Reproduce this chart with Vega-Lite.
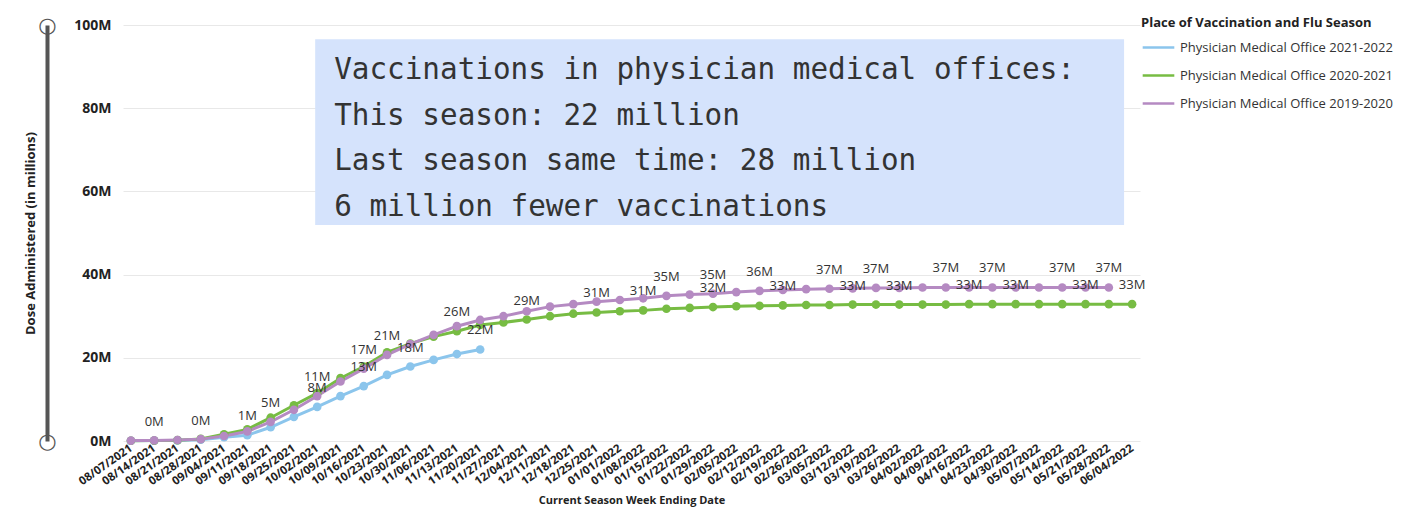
{
  "$schema": "https://vega.github.io/schema/vega-lite/v6.json",
  "width": 1017,
  "height": 416,
  "autosize": {"type": "none"},
  "padding": {"left": 123, "top": 25, "right": 286, "bottom": 68},
  "background": "white",
  "config": {
    "font": "Open Sans",
    "view": {"stroke": null},
    "axisX": {"grid": false, "ticks": false, "domain": false, "labelAngle": -35, "labelAlign": "right", "labelBaseline": "middle", "labelFont": "Open Sans", "labelFontWeight": "bold", "labelFontSize": 11.5, "labelColor": "#222", "labelPadding": 6, "titleFont": "Open Sans", "titleFontWeight": "bold", "titleFontSize": 11, "titleColor": "#222", "titlePadding": 7}
  },
  "datasets": {
    "main": [
      {"d": "08/07/2021", "s": "Physician Medical Office 2021-2022", "v": 0.05},
      {"d": "08/14/2021", "s": "Physician Medical Office 2021-2022", "v": 0.1, "l": "0M"},
      {"d": "08/21/2021", "s": "Physician Medical Office 2021-2022", "v": 0.15},
      {"d": "08/28/2021", "s": "Physician Medical Office 2021-2022", "v": 0.3, "l": "0M"},
      {"d": "09/04/2021", "s": "Physician Medical Office 2021-2022", "v": 0.9},
      {"d": "09/11/2021", "s": "Physician Medical Office 2021-2022", "v": 1.4, "l": "1M"},
      {"d": "09/18/2021", "s": "Physician Medical Office 2021-2022", "v": 3.3},
      {"d": "09/25/2021", "s": "Physician Medical Office 2021-2022", "v": 5.8},
      {"d": "10/02/2021", "s": "Physician Medical Office 2021-2022", "v": 8.2, "l": "8M"},
      {"d": "10/09/2021", "s": "Physician Medical Office 2021-2022", "v": 10.8},
      {"d": "10/16/2021", "s": "Physician Medical Office 2021-2022", "v": 13.2, "l": "13M"},
      {"d": "10/23/2021", "s": "Physician Medical Office 2021-2022", "v": 15.9},
      {"d": "10/30/2021", "s": "Physician Medical Office 2021-2022", "v": 17.9, "l": "18M"},
      {"d": "11/06/2021", "s": "Physician Medical Office 2021-2022", "v": 19.5},
      {"d": "11/13/2021", "s": "Physician Medical Office 2021-2022", "v": 20.9},
      {"d": "11/20/2021", "s": "Physician Medical Office 2021-2022", "v": 22.0, "l": "22M"},

      {"d": "08/07/2021", "s": "Physician Medical Office 2020-2021", "v": 0.05},
      {"d": "08/14/2021", "s": "Physician Medical Office 2020-2021", "v": 0.1},
      {"d": "08/21/2021", "s": "Physician Medical Office 2020-2021", "v": 0.2},
      {"d": "08/28/2021", "s": "Physician Medical Office 2020-2021", "v": 0.5},
      {"d": "09/04/2021", "s": "Physician Medical Office 2020-2021", "v": 1.6},
      {"d": "09/11/2021", "s": "Physician Medical Office 2020-2021", "v": 2.8},
      {"d": "09/18/2021", "s": "Physician Medical Office 2020-2021", "v": 5.6},
      {"d": "09/25/2021", "s": "Physician Medical Office 2020-2021", "v": 8.6},
      {"d": "10/02/2021", "s": "Physician Medical Office 2020-2021", "v": 11.5},
      {"d": "10/09/2021", "s": "Physician Medical Office 2020-2021", "v": 15.1},
      {"d": "10/16/2021", "s": "Physician Medical Office 2020-2021", "v": 17.9},
      {"d": "10/23/2021", "s": "Physician Medical Office 2020-2021", "v": 21.3},
      {"d": "10/30/2021", "s": "Physician Medical Office 2020-2021", "v": 23.4},
      {"d": "11/06/2021", "s": "Physician Medical Office 2020-2021", "v": 25.1},
      {"d": "11/13/2021", "s": "Physician Medical Office 2020-2021", "v": 26.4, "l": "26M"},
      {"d": "11/20/2021", "s": "Physician Medical Office 2020-2021", "v": 27.9},
      {"d": "11/27/2021", "s": "Physician Medical Office 2020-2021", "v": 28.5},
      {"d": "12/04/2021", "s": "Physician Medical Office 2020-2021", "v": 29.2, "l": "29M"},
      {"d": "12/11/2021", "s": "Physician Medical Office 2020-2021", "v": 30.0},
      {"d": "12/18/2021", "s": "Physician Medical Office 2020-2021", "v": 30.6},
      {"d": "12/25/2021", "s": "Physician Medical Office 2020-2021", "v": 30.9, "l": "31M"},
      {"d": "01/01/2022", "s": "Physician Medical Office 2020-2021", "v": 31.2},
      {"d": "01/08/2022", "s": "Physician Medical Office 2020-2021", "v": 31.4, "l": "31M"},
      {"d": "01/15/2022", "s": "Physician Medical Office 2020-2021", "v": 31.8},
      {"d": "01/22/2022", "s": "Physician Medical Office 2020-2021", "v": 32.0},
      {"d": "01/29/2022", "s": "Physician Medical Office 2020-2021", "v": 32.2, "l": "32M"},
      {"d": "02/05/2022", "s": "Physician Medical Office 2020-2021", "v": 32.4},
      {"d": "02/12/2022", "s": "Physician Medical Office 2020-2021", "v": 32.5},
      {"d": "02/19/2022", "s": "Physician Medical Office 2020-2021", "v": 32.6, "l": "33M"},
      {"d": "02/26/2022", "s": "Physician Medical Office 2020-2021", "v": 32.7},
      {"d": "03/05/2022", "s": "Physician Medical Office 2020-2021", "v": 32.7},
      {"d": "03/12/2022", "s": "Physician Medical Office 2020-2021", "v": 32.8, "l": "33M"},
      {"d": "03/19/2022", "s": "Physician Medical Office 2020-2021", "v": 32.8},
      {"d": "03/26/2022", "s": "Physician Medical Office 2020-2021", "v": 32.8, "l": "33M"},
      {"d": "04/02/2022", "s": "Physician Medical Office 2020-2021", "v": 32.8},
      {"d": "04/09/2022", "s": "Physician Medical Office 2020-2021", "v": 32.8},
      {"d": "04/16/2022", "s": "Physician Medical Office 2020-2021", "v": 32.9, "l": "33M"},
      {"d": "04/23/2022", "s": "Physician Medical Office 2020-2021", "v": 32.9},
      {"d": "04/30/2022", "s": "Physician Medical Office 2020-2021", "v": 32.9, "l": "33M"},
      {"d": "05/07/2022", "s": "Physician Medical Office 2020-2021", "v": 32.9},
      {"d": "05/14/2022", "s": "Physician Medical Office 2020-2021", "v": 32.9},
      {"d": "05/21/2022", "s": "Physician Medical Office 2020-2021", "v": 32.9, "l": "33M"},
      {"d": "05/28/2022", "s": "Physician Medical Office 2020-2021", "v": 32.9},
      {"d": "06/04/2022", "s": "Physician Medical Office 2020-2021", "v": 32.9, "l": "33M"},

      {"d": "08/07/2021", "s": "Physician Medical Office 2019-2020", "v": 0.1},
      {"d": "08/14/2021", "s": "Physician Medical Office 2019-2020", "v": 0.15},
      {"d": "08/21/2021", "s": "Physician Medical Office 2019-2020", "v": 0.25},
      {"d": "08/28/2021", "s": "Physician Medical Office 2019-2020", "v": 0.45},
      {"d": "09/04/2021", "s": "Physician Medical Office 2019-2020", "v": 1.2},
      {"d": "09/11/2021", "s": "Physician Medical Office 2019-2020", "v": 2.3},
      {"d": "09/18/2021", "s": "Physician Medical Office 2019-2020", "v": 4.6, "l": "5M"},
      {"d": "09/25/2021", "s": "Physician Medical Office 2019-2020", "v": 7.5},
      {"d": "10/02/2021", "s": "Physician Medical Office 2019-2020", "v": 10.8, "l": "11M"},
      {"d": "10/09/2021", "s": "Physician Medical Office 2019-2020", "v": 14.3},
      {"d": "10/16/2021", "s": "Physician Medical Office 2019-2020", "v": 17.4, "l": "17M"},
      {"d": "10/23/2021", "s": "Physician Medical Office 2019-2020", "v": 20.7, "l": "21M"},
      {"d": "10/30/2021", "s": "Physician Medical Office 2019-2020", "v": 23.3},
      {"d": "11/06/2021", "s": "Physician Medical Office 2019-2020", "v": 25.5},
      {"d": "11/13/2021", "s": "Physician Medical Office 2019-2020", "v": 27.6},
      {"d": "11/20/2021", "s": "Physician Medical Office 2019-2020", "v": 29.1},
      {"d": "11/27/2021", "s": "Physician Medical Office 2019-2020", "v": 30.0},
      {"d": "12/04/2021", "s": "Physician Medical Office 2019-2020", "v": 31.2},
      {"d": "12/11/2021", "s": "Physician Medical Office 2019-2020", "v": 32.3},
      {"d": "12/18/2021", "s": "Physician Medical Office 2019-2020", "v": 32.9},
      {"d": "12/25/2021", "s": "Physician Medical Office 2019-2020", "v": 33.5},
      {"d": "01/01/2022", "s": "Physician Medical Office 2019-2020", "v": 33.9},
      {"d": "01/08/2022", "s": "Physician Medical Office 2019-2020", "v": 34.3},
      {"d": "01/15/2022", "s": "Physician Medical Office 2019-2020", "v": 34.9, "l": "35M"},
      {"d": "01/22/2022", "s": "Physician Medical Office 2019-2020", "v": 35.2},
      {"d": "01/29/2022", "s": "Physician Medical Office 2019-2020", "v": 35.4, "l": "35M"},
      {"d": "02/05/2022", "s": "Physician Medical Office 2019-2020", "v": 35.8},
      {"d": "02/12/2022", "s": "Physician Medical Office 2019-2020", "v": 36.1, "l": "36M"},
      {"d": "02/19/2022", "s": "Physician Medical Office 2019-2020", "v": 36.3},
      {"d": "02/26/2022", "s": "Physician Medical Office 2019-2020", "v": 36.5},
      {"d": "03/05/2022", "s": "Physician Medical Office 2019-2020", "v": 36.6, "l": "37M"},
      {"d": "03/12/2022", "s": "Physician Medical Office 2019-2020", "v": 36.7},
      {"d": "03/19/2022", "s": "Physician Medical Office 2019-2020", "v": 36.8, "l": "37M"},
      {"d": "03/26/2022", "s": "Physician Medical Office 2019-2020", "v": 36.8},
      {"d": "04/02/2022", "s": "Physician Medical Office 2019-2020", "v": 36.9},
      {"d": "04/09/2022", "s": "Physician Medical Office 2019-2020", "v": 36.9, "l": "37M"},
      {"d": "04/16/2022", "s": "Physician Medical Office 2019-2020", "v": 36.9},
      {"d": "04/23/2022", "s": "Physician Medical Office 2019-2020", "v": 36.9, "l": "37M"},
      {"d": "04/30/2022", "s": "Physician Medical Office 2019-2020", "v": 36.9},
      {"d": "05/07/2022", "s": "Physician Medical Office 2019-2020", "v": 36.9},
      {"d": "05/14/2022", "s": "Physician Medical Office 2019-2020", "v": 36.9, "l": "37M"},
      {"d": "05/21/2022", "s": "Physician Medical Office 2019-2020", "v": 36.9},
      {"d": "05/28/2022", "s": "Physician Medical Office 2019-2020", "v": 36.9, "l": "37M"}
    ]
  },
  "layer": [
    {
      "data": {"name": "main"},
      "mark": {"type": "line", "strokeWidth": 3},
      "encoding": {
        "x": {"field": "d", "type": "ordinal", "sort": null,
              "scale": {"type": "point", "padding": 0.34, "domain": ["08/07/2021","08/14/2021","08/21/2021","08/28/2021","09/04/2021","09/11/2021","09/18/2021","09/25/2021","10/02/2021","10/09/2021","10/16/2021","10/23/2021","10/30/2021","11/06/2021","11/13/2021","11/20/2021","11/27/2021","12/04/2021","12/11/2021","12/18/2021","12/25/2021","01/01/2022","01/08/2022","01/15/2022","01/22/2022","01/29/2022","02/05/2022","02/12/2022","02/19/2022","02/26/2022","03/05/2022","03/12/2022","03/19/2022","03/26/2022","04/02/2022","04/09/2022","04/16/2022","04/23/2022","04/30/2022","05/07/2022","05/14/2022","05/21/2022","05/28/2022","06/04/2022"]},
              "axis": {"title": "Current Season Week Ending Date"}},
        "y": {"field": "v", "type": "quantitative", "scale": {"domain": [0, 100], "nice": false},
              "axis": {"orient": "left", "values": [0, 20, 40, 60, 80, 100], "labelExpr": "datum.value + 'M'", "title": null, "grid": true, "gridColor": "#E8E8E8", "gridWidth": 1, "ticks": false, "domain": false, "labelPadding": 12, "labelFont": "Open Sans", "labelFontWeight": "bold", "labelFontSize": 14, "labelColor": "#222"}},
        "color": {"field": "s", "type": "nominal", "sort": null,
                  "scale": {"domain": ["Physician Medical Office 2021-2022", "Physician Medical Office 2020-2021", "Physician Medical Office 2019-2020"], "range": ["#8BC5EC", "#77BC43", "#B58AC2"]},
                  "legend": {"title": "Place of Vaccination and Flu Season", "orient": "none", "legendX": 1018, "legendY": -8, "symbolType": "stroke", "symbolSize": 1000, "symbolStrokeWidth": 2.5, "titleFont": "Open Sans", "titleFontWeight": "bold", "titleFontSize": 13, "titleColor": "#222", "titlePadding": 0, "labelFont": "Open Sans", "labelFontSize": 13, "labelColor": "#333", "rowPadding": 3, "labelLimit": 300, "titleLimit": 300}}
      }
    },
    {
      "data": {"name": "main"},
      "mark": {"type": "point", "filled": true, "opacity": 1, "size": 75},
      "encoding": {
        "x": {"field": "d", "type": "ordinal", "sort": null, "axis": {"title": "Current Season Week Ending Date"}},
        "y": {"field": "v", "type": "quantitative",
              "axis": {"orient": "left", "offset": 76, "values": [0, 100], "labelExpr": "'○'", "grid": false, "ticks": false, "tickSize": 0, "domain": true, "domainColor": "#555555", "domainWidth": 4, "labelPadding": 0, "labelAlign": "center", "labelBaseline": "middle", "labelFont": "DejaVu Sans", "labelFontSize": 21, "labelColor": "#555555", "title": "Dose Administered (in millions)", "titleFont": "Open Sans", "titleFontWeight": "bold", "titleFontSize": 13, "titleColor": "#222", "titlePadding": 0}},
        "color": {"field": "s", "type": "nominal", "sort": null}
      }
    },
    {
      "data": {"name": "main"},
      "transform": [{"filter": "datum.l"}],
      "mark": {"type": "text", "font": "Open Sans", "fontSize": 13, "color": "#333333", "baseline": "middle", "align": "center", "dy": -19},
      "encoding": {
        "x": {"field": "d", "type": "ordinal", "sort": null, "axis": {"title": "Current Season Week Ending Date"}},
        "y": {"field": "v", "type": "quantitative", "axis": null},
        "text": {"field": "l"}
      }
    },
    {
      "data": {"values": [{}]},
      "mark": {"type": "rect", "color": "#D5E3FC", "xOffset": -2, "x2Offset": -8},
      "encoding": {
        "x": {"datum": "10/02/2021", "type": "ordinal", "axis": {"title": "Current Season Week Ending Date"}},
        "x2": {"datum": "06/04/2022"},
        "y": {"datum": 96.6, "type": "quantitative", "axis": null},
        "y2": {"datum": 51.9}
      }
    },
    {
      "data": {"values": [{}]},
      "mark": {"type": "text", "text": ["Vaccinations in physician medical offices:", "This season: 22 million", "Last season same time: 28 million", "6 million fewer vaccinations"], "font": "DejaVu Sans Mono", "fontSize": 29.3, "color": "#333333", "align": "left", "baseline": "middle", "lineHeight": 45.7, "dx": 17},
      "encoding": {
        "x": {"datum": "10/02/2021", "type": "ordinal", "axis": {"title": "Current Season Week Ending Date"}},
        "y": {"datum": 89.2, "type": "quantitative", "axis": null}
      }
    }
  ],
  "resolve": {"axis": {"y": "independent"}}
}
